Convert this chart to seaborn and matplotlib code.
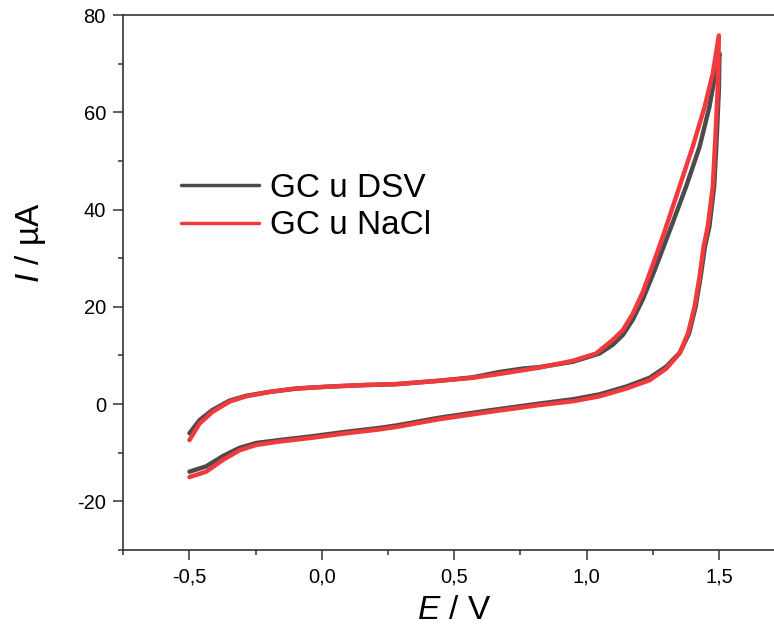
import numpy as np
import pandas as pd
import matplotlib
matplotlib.use('Agg')
import matplotlib.pyplot as plt
from matplotlib.ticker import MultipleLocator, FuncFormatter
import seaborn as sns

# GC u DSV: potential (V) and current (uA), forward sweep then reverse sweep
E_dsv = [-0.5, -0.462, -0.413, -0.349, -0.286, -0.198, -0.097, 0.029, 0.154, 0.281,
         0.444, 0.57, 0.671, 0.76, 0.822, 0.948, 1.049, 1.099, 1.137, 1.175, 1.213,
         1.257, 1.32, 1.376, 1.427, 1.464, 1.487, 1.502,
         1.5, 1.492, 1.482, 1.464, 1.447, 1.431, 1.412, 1.387, 1.353, 1.301, 1.238,
         1.15, 1.049, 0.95, 0.822, 0.633, 0.444, 0.281, 0.218, 0.092, -0.034, -0.16,
         -0.248, -0.311, -0.374, -0.437, -0.5]
I_dsv = [-6.0, -3.3, -1.2, 0.7, 1.7, 2.5, 3.2, 3.6, 3.9, 4.1,
         4.8, 5.5, 6.6, 7.3, 7.6, 8.7, 10.4, 12.2, 14.2, 17.4, 21.6,
         27.5, 36.5, 44.7, 52.9, 61.1, 68.0, 72.1,
         65.0, 55.0, 44.7, 36.5, 32.3, 26.2, 20.0, 14.5, 10.6, 7.7, 5.4,
         3.6, 2.0, 1.0, 0.1, -1.3, -2.8, -4.4, -4.9, -5.7, -6.6, -7.4,
         -8.0, -9.0, -10.7, -12.8, -13.9]

# GC u NaCl
E_nacl = [-0.5, -0.462, -0.413, -0.349, -0.286, -0.198, -0.097, 0.029, 0.154, 0.281,
          0.444, 0.57, 0.671, 0.822, 0.948, 1.036, 1.099, 1.137, 1.175, 1.213,
          1.25, 1.288, 1.351, 1.401, 1.446, 1.477, 1.5,
          1.496, 1.487, 1.477, 1.458, 1.442, 1.427, 1.408, 1.383, 1.351, 1.301, 1.238,
          1.15, 1.049, 0.95, 0.822, 0.633, 0.444, 0.281, 0.218, 0.092, -0.034, -0.16,
          -0.248, -0.311, -0.374, -0.437, -0.5]
I_nacl = [-7.4, -4.0, -1.6, 0.5, 1.6, 2.5, 3.2, 3.6, 3.9, 4.1,
          4.8, 5.4, 6.2, 7.5, 8.9, 10.4, 13.2, 15.2, 18.6, 23.1,
          28.6, 34.4, 44.7, 52.9, 61.1, 68.0, 75.8,
          65.2, 55.0, 44.7, 36.5, 32.3, 26.2, 20.0, 14.5, 10.4, 7.3, 4.9,
          3.2, 1.6, 0.6, -0.2, -1.6, -3.1, -4.7, -5.2, -6.0, -6.9, -7.7,
          -8.4, -9.5, -11.5, -13.9, -15.0]

labels = ['GC u DSV', 'GC u NaCl']
colors = ['#4b4b4b', '#f03a3e']

sns.set_style('ticks')
plt.rcParams['font.family'] = ['Liberation Sans', 'DejaVu Sans']
plt.rcParams['mathtext.fontset'] = 'custom'
plt.rcParams['mathtext.it'] = 'Liberation Sans:italic'
plt.rcParams['mathtext.rm'] = 'Liberation Sans'
plt.rcParams['axes.unicode_minus'] = False
plt.rcParams['text.color'] = 'black'
plt.rcParams['axes.labelcolor'] = 'black'
plt.rcParams['xtick.labelcolor'] = 'black'
plt.rcParams['ytick.labelcolor'] = 'black'

fig = plt.figure(figsize=(7.74, 6.39), dpi=100)
ax = fig.add_axes([0.1593, 0.1393, 0.855, 0.8372])

curves = [(E_dsv, I_dsv), (E_nacl, I_nacl)]
for (E, I), lab, col in zip(curves, labels, colors):
    df = pd.DataFrame({'E': E, 'I': I})
    sns.lineplot(data=df, x='E', y='I', sort=False, estimator=None, color=col,
                 lw=3.2, label=lab, ax=ax, solid_capstyle='round', solid_joinstyle='round')

ax.set_xlim(-0.75, 1.75)
ax.set_ylim(-30, 80)
ax.xaxis.set_major_locator(MultipleLocator(0.5))
ax.xaxis.set_minor_locator(MultipleLocator(0.25))
ax.yaxis.set_major_locator(MultipleLocator(20))
ax.yaxis.set_minor_locator(MultipleLocator(10))
ax.xaxis.set_major_formatter(FuncFormatter(lambda v, p: f"{v:.1f}".replace('.', ',')))
ax.yaxis.set_major_formatter(FuncFormatter(lambda v, p: f"{v:.0f}"))

for s in ax.spines.values():
    s.set_color('#333333')
    s.set_linewidth(1.2)
ax.tick_params(which='major', direction='out', length=7.5, width=1.1, color='#333333',
               labelsize=14.5, labelcolor='black', pad=5, top=False, right=False)
ax.tick_params(which='minor', direction='out', length=3.8, width=1.1, color='#333333',
               top=False, right=False)

ax.set_xlabel('$E$ / V', fontsize=24, labelpad=6, color='black')
ax.set_ylabel('$I$ / µA', fontsize=24, color='black')
ax.yaxis.set_label_coords(-0.114, 0.574)

leg = ax.legend(loc='upper left', bbox_to_anchor=(0.087, 0.705), frameon=False,
                fontsize=24, handlelength=2.35, handletextpad=0.33, labelspacing=0.2,
                borderpad=0, borderaxespad=0)
for h in leg.get_lines():
    h.set_linewidth(2.5)
for t in leg.get_texts():
    t.set_color('black')

fig.savefig('out.png', dpi=100)
